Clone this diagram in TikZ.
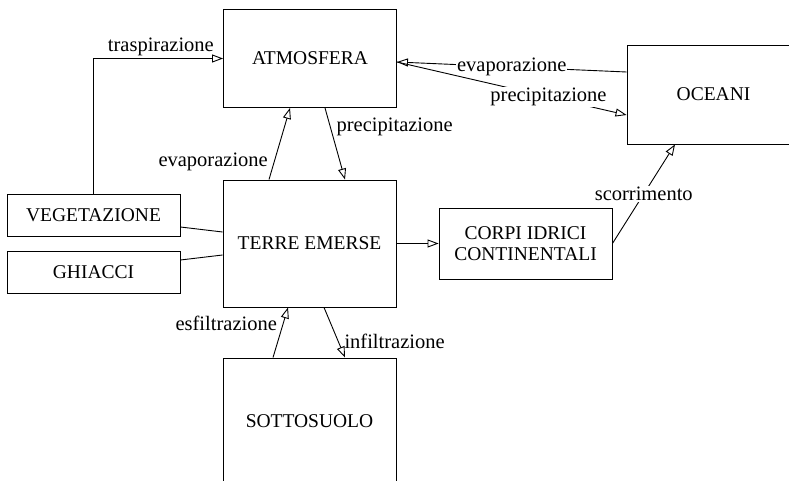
\documentclass[tikz,border=0pt]{standalone}
\usepackage{fontspec}
\setmainfont{Liberation Serif}
\usetikzlibrary{arrows.meta}
\tikzset{
  cyclebox/.style={
    draw=black,
    fill=white,
    line width=0.9pt,
    align=center,
    inner sep=0pt,
    font=\fontsize{19.5}{21}\selectfont
  },
  cycleflow/.style={-{Triangle[open,length=11pt,width=8pt]},draw=black,line width=0.9pt},
  cyclelink/.style={draw=black,line width=0.9pt},
  flowlabel/.style={font=\fontsize{20.5}{22}\selectfont,inner sep=2pt},
  sidelabel/.style={flowlabel,inner sep=6pt},
  onlabel/.style={flowlabel,fill=white,inner sep=1pt}
}
\begin{document}
\begin{tikzpicture}[x=1pt,y=-1pt]
  \useasboundingbox (0,0) rectangle (789,481);
  \clip (0,0) rectangle (789,481);
  \node[cyclebox,minimum width=173pt,minimum height=98pt] (atm) at (310,58.5) {ATMOSFERA};
  \node[cyclebox,minimum width=173pt,minimum height=127pt] (terre) at (309.5,243.5) {TERRE EMERSE};
  \node[cyclebox,minimum width=173pt,minimum height=42pt] (veg) at (93.5,215) {VEGETAZIONE};
  \node[cyclebox,minimum width=173pt,minimum height=42pt] (ghi) at (93.5,272) {GHIACCI};
  \node[cyclebox,minimum width=173pt,minimum height=99pt] (oce) at (713.5,94.5) {OCEANI};
  \node[cyclebox,minimum width=173pt,minimum height=71pt] (corpi) at (525.5,243.5) {CORPI IDRICI\\CONTINENTALI};
  \node[cyclebox,minimum width=173pt,minimum height=127pt] (sotto) at (309.5,421.5) {SOTTOSUOLO};
  % scambi con l'atmosfera
  \draw[cycleflow] (veg.north) |- (atm.west) node[flowlabel,pos=0.76,above] {traspirazione};
  \draw[cycleflow] ([xshift=-40.5pt]terre.north) -- ([xshift=-20pt]atm.south) node[sidelabel,pos=0.25,left] {evaporazione};
  \draw[cycleflow] ([xshift=15pt]atm.south) -- ([xshift=35.5pt]terre.north) node[sidelabel,pos=0.26,right] {precipitazione};
  \draw[cycleflow] ([yshift=22.5pt]oce.west) -- ([yshift=-3.5pt]atm.east) node[onlabel,pos=0.5] {evaporazione};
  \draw[cycleflow] ([yshift=-3.5pt]atm.east) -- ([yshift=-20.5pt]oce.west) node[onlabel,pos=0.66] {precipitazione};
  % acque di superficie
  \draw[cycleflow] (terre.east) -- (corpi.west);
  \draw[cycleflow] (corpi.east) -- ([xshift=-38.5pt]oce.south) node[onlabel,pos=0.5] {scorrimento};
  \draw[cyclelink] ([yshift=-12pt]veg.east) -- ([yshift=11.5pt]terre.west);
  \draw[cyclelink] ([yshift=12pt]ghi.east) -- ([yshift=-11.5pt]terre.west);
  % sottosuolo
  \draw[cycleflow] ([xshift=-36.5pt]sotto.north) -- ([xshift=-21.5pt]terre.south) node[sidelabel,pos=0.69,left] {esfiltrazione};
  \draw[cycleflow] ([xshift=14.5pt]terre.south) -- ([xshift=35.5pt]sotto.north) node[sidelabel,pos=0.67,right] {infiltrazione};
\end{tikzpicture}
\end{document}
